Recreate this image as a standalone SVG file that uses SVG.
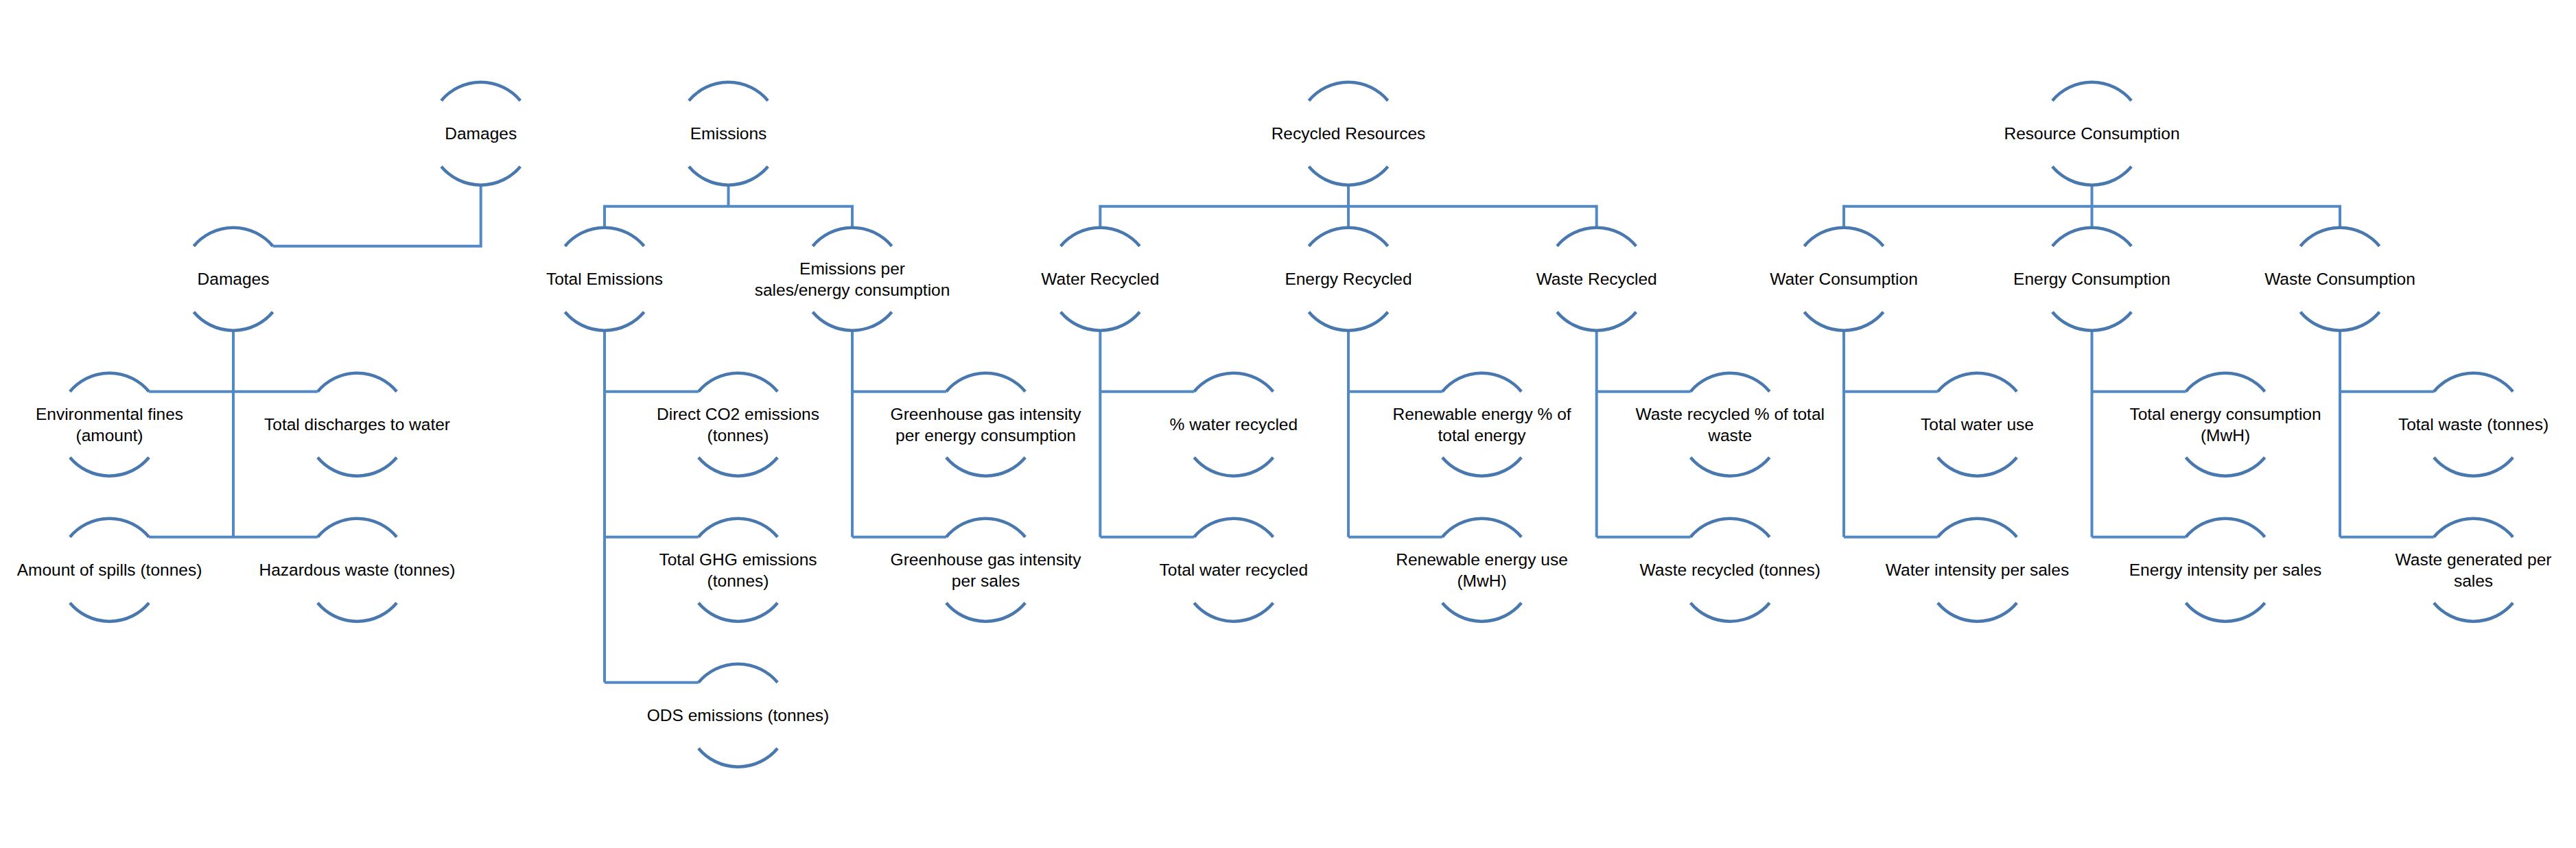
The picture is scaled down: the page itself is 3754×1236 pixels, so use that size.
<svg xmlns="http://www.w3.org/2000/svg" xmlns:xlink="http://www.w3.org/1999/xlink" width="3754" height="1236" viewBox="0 0 3754 1236">
<style>
.arc{fill:none;stroke:#4878AE;stroke-width:4.5}
.con path{fill:none;stroke:#5089C6;stroke-width:4}
text{font-family:"Liberation Sans",Arial,sans-serif;font-size:24.5px;fill:#000;text-anchor:middle}
</style>
<defs>
<path id="ring" class="arc" d="M-57.6,-48 A75,75 0 0 1 57.6,-48 M-57.6,48 A75,75 0 0 0 57.6,48"/>
</defs>
<rect width="3754" height="1236" fill="#fff"/>
<g class="con" id="connectors">
<path d="M700.7,269.7 V358.7 H397.6"/>
<path d="M340,481.7 V782.7"/>
<path d="M217.1,570.7 H462.9"/>
<path d="M217.1,782.7 H462.9"/>
<path d="M1061.5,269.7 V300.7"/>
<path d="M881,331.7 V300.7 H1242 V331.7"/>
<path d="M881,481.7 V994.7"/>
<path d="M881,570.7 H1017.9"/>
<path d="M881,782.7 H1017.9"/>
<path d="M881,994.7 H1017.9"/>
<path d="M1242,481.7 V782.7"/>
<path d="M1242,570.7 H1378.9"/>
<path d="M1242,782.7 H1378.9"/>
<path d="M1965,269.7 V331.7"/>
<path d="M1603.3,331.7 V300.7 H2326.7 V331.7"/>
<path d="M1603.3,481.7 V782.7"/>
<path d="M1603.3,570.7 H1740.2"/>
<path d="M1603.3,782.7 H1740.2"/>
<path d="M1965,481.7 V782.7"/>
<path d="M1965,570.7 H2101.9"/>
<path d="M1965,782.7 H2101.9"/>
<path d="M2326.7,481.7 V782.7"/>
<path d="M2326.7,570.7 H2463.6"/>
<path d="M2326.7,782.7 H2463.6"/>
<path d="M3048.5,269.7 V331.7"/>
<path d="M2687,331.7 V300.7 H3410 V331.7"/>
<path d="M2687,481.7 V782.7"/>
<path d="M2687,570.7 H2823.9"/>
<path d="M2687,782.7 H2823.9"/>
<path d="M3048.5,481.7 V782.7"/>
<path d="M3048.5,570.7 H3185.4"/>
<path d="M3048.5,782.7 H3185.4"/>
<path d="M3410,481.7 V782.7"/>
<path d="M3410,570.7 H3546.9"/>
<path d="M3410,782.7 H3546.9"/>
</g>
<g id="n-damages-root" transform="translate(700.7,194.7)"><use xlink:href="#ring"/><text y="8">Damages</text></g>
<g id="n-damages" transform="translate(340,406.7)"><use xlink:href="#ring"/><text y="8">Damages</text></g>
<g id="n-env-fines" transform="translate(159.5,618.7)"><use xlink:href="#ring"/><text y="-7">Environmental fines</text><text y="24">(amount)</text></g>
<g id="n-discharges" transform="translate(520.5,618.7)"><use xlink:href="#ring"/><text y="8">Total discharges to water</text></g>
<g id="n-spills" transform="translate(159.5,830.7)"><use xlink:href="#ring"/><text y="8">Amount of spills (tonnes)</text></g>
<g id="n-hazardous" transform="translate(520.5,830.7)"><use xlink:href="#ring"/><text y="8">Hazardous waste (tonnes)</text></g>
<g id="n-emissions-root" transform="translate(1061.5,194.7)"><use xlink:href="#ring"/><text y="8">Emissions</text></g>
<g id="n-total-emissions" transform="translate(881,406.7)"><use xlink:href="#ring"/><text y="8">Total Emissions</text></g>
<g id="n-emissions-per" transform="translate(1242,406.7)"><use xlink:href="#ring"/><text y="-7">Emissions per</text><text y="24">sales/energy consumption</text></g>
<g id="n-direct-co2" transform="translate(1075.5,618.7)"><use xlink:href="#ring"/><text y="-7">Direct CO2 emissions</text><text y="24">(tonnes)</text></g>
<g id="n-total-ghg" transform="translate(1075.5,830.7)"><use xlink:href="#ring"/><text y="-7">Total GHG emissions</text><text y="24">(tonnes)</text></g>
<g id="n-ods" transform="translate(1075.5,1042.7)"><use xlink:href="#ring"/><text y="8">ODS emissions (tonnes)</text></g>
<g id="n-ghg-energy" transform="translate(1436.5,618.7)"><use xlink:href="#ring"/><text y="-7">Greenhouse gas intensity</text><text y="24">per energy consumption</text></g>
<g id="n-ghg-sales" transform="translate(1436.5,830.7)"><use xlink:href="#ring"/><text y="-7">Greenhouse gas intensity</text><text y="24">per sales</text></g>
<g id="n-recycled-root" transform="translate(1965,194.7)"><use xlink:href="#ring"/><text y="8">Recycled Resources</text></g>
<g id="n-water-recycled" transform="translate(1603.3,406.7)"><use xlink:href="#ring"/><text y="8">Water Recycled</text></g>
<g id="n-energy-recycled" transform="translate(1965,406.7)"><use xlink:href="#ring"/><text y="8">Energy Recycled</text></g>
<g id="n-waste-recycled" transform="translate(2326.7,406.7)"><use xlink:href="#ring"/><text y="8">Waste Recycled</text></g>
<g id="n-pct-water" transform="translate(1797.8,618.7)"><use xlink:href="#ring"/><text y="8">% water recycled</text></g>
<g id="n-total-water-recycled" transform="translate(1797.8,830.7)"><use xlink:href="#ring"/><text y="8">Total water recycled</text></g>
<g id="n-renewable-pct" transform="translate(2159.5,618.7)"><use xlink:href="#ring"/><text y="-7">Renewable energy % of</text><text y="24">total energy</text></g>
<g id="n-renewable-use" transform="translate(2159.5,830.7)"><use xlink:href="#ring"/><text y="-7">Renewable energy use</text><text y="24">(MwH)</text></g>
<g id="n-waste-pct" transform="translate(2521.2,618.7)"><use xlink:href="#ring"/><text y="-7">Waste recycled % of total</text><text y="24">waste</text></g>
<g id="n-waste-tonnes" transform="translate(2521.2,830.7)"><use xlink:href="#ring"/><text y="8">Waste recycled (tonnes)</text></g>
<g id="n-consumption-root" transform="translate(3048.5,194.7)"><use xlink:href="#ring"/><text y="8">Resource Consumption</text></g>
<g id="n-water-consumption" transform="translate(2687,406.7)"><use xlink:href="#ring"/><text y="8">Water Consumption</text></g>
<g id="n-energy-consumption" transform="translate(3048.5,406.7)"><use xlink:href="#ring"/><text y="8">Energy Consumption</text></g>
<g id="n-waste-consumption" transform="translate(3410,406.7)"><use xlink:href="#ring"/><text y="8">Waste Consumption</text></g>
<g id="n-total-water-use" transform="translate(2881.5,618.7)"><use xlink:href="#ring"/><text y="8">Total water use</text></g>
<g id="n-water-intensity" transform="translate(2881.5,830.7)"><use xlink:href="#ring"/><text y="8">Water intensity per sales</text></g>
<g id="n-total-energy" transform="translate(3243,618.7)"><use xlink:href="#ring"/><text y="-7">Total energy consumption</text><text y="24">(MwH)</text></g>
<g id="n-energy-intensity" transform="translate(3243,830.7)"><use xlink:href="#ring"/><text y="8">Energy intensity per sales</text></g>
<g id="n-total-waste" transform="translate(3604.5,618.7)"><use xlink:href="#ring"/><text y="8">Total waste (tonnes)</text></g>
<g id="n-waste-generated" transform="translate(3604.5,830.7)"><use xlink:href="#ring"/><text y="-7">Waste generated per</text><text y="24">sales</text></g>
</svg>
